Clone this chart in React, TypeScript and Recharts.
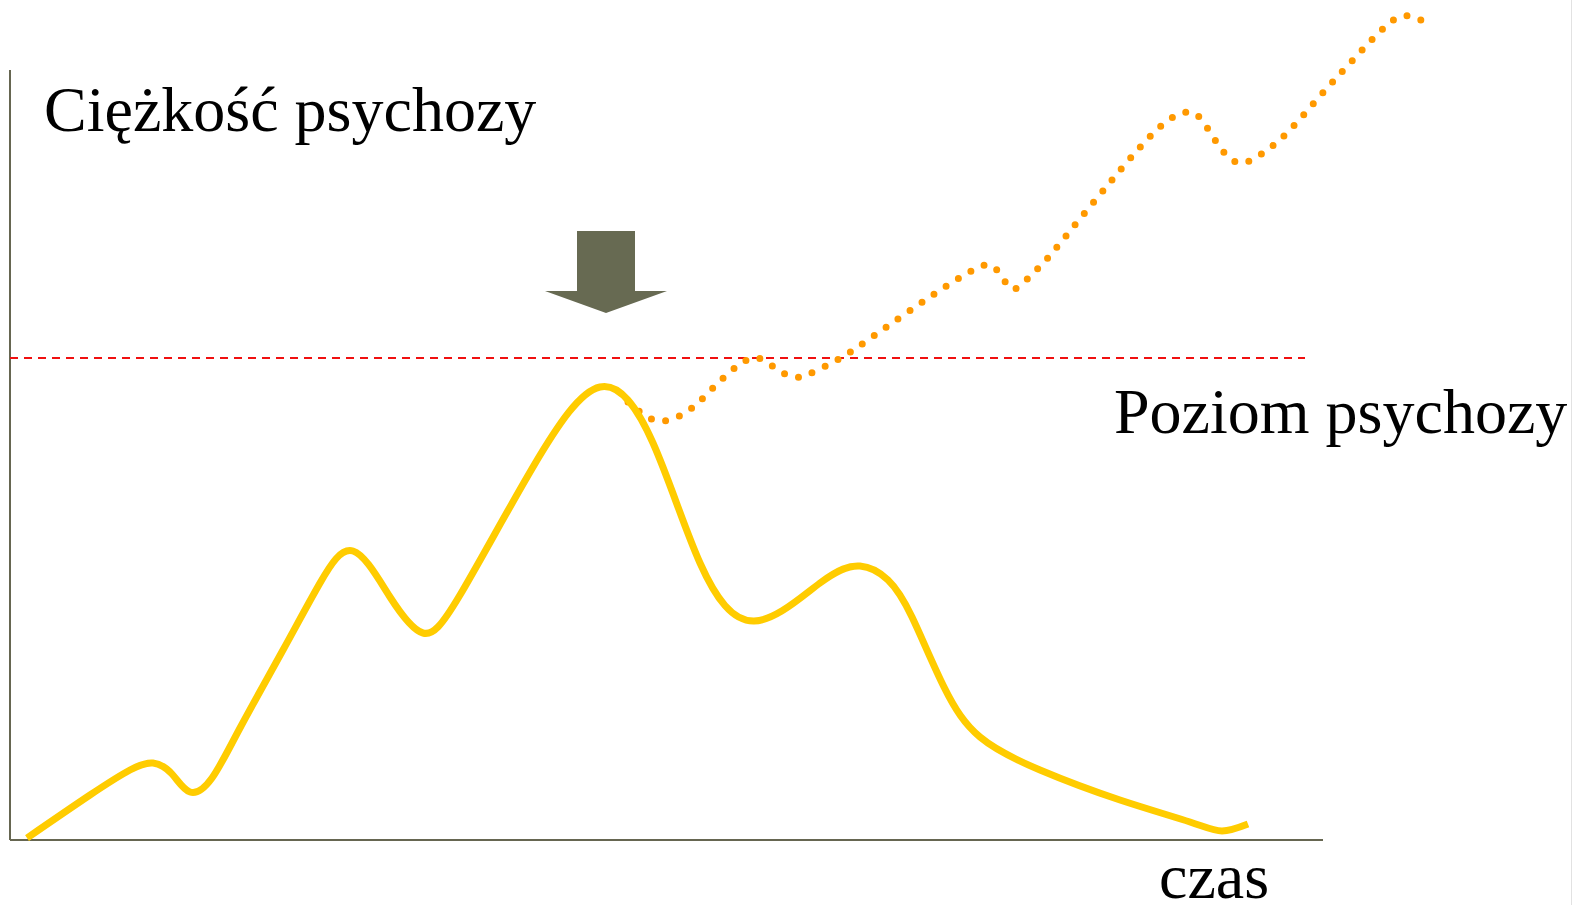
import React from 'react';
import { LineChart, Line, XAxis, YAxis, ReferenceLine, ReferenceDot, Customized } from 'recharts';

// time (t) and psychosis severity (s)
const mildCourseT = [1.7, 8.0, 12.0, 14.3, 16.2, 18.0, 20.2, 23.0, 27.3, 31.0, 34.3, 38.0, 41.3, 45.0, 52.3, 59.0, 64.3, 69.0, 74.4, 81.0, 85.0, 87.8, 90.2, 93.4, 97.0, 103.0, 111.0, 118.0, 121.2, 123.8];
const mildCourseS = [0.2, 4.5, 7.0, 7.7, 6.6, 4.8, 6.2, 11.2, 19.0, 25.7, 28.9, 24.3, 20.7, 24.5, 37.3, 45.3, 39.7, 27.7, 21.9, 25.7, 27.4, 26.0, 22.3, 15.3, 10.3, 7.0, 4.0, 1.8, 0.9, 1.6];

const untreatedT = [61.8, 63.3, 65.2, 67.8, 70.2, 72.6, 74.8, 76.8, 78.5, 79.9, 82.7, 85.5, 89.5, 93.5, 96.3, 97.9, 99.0, 100.0, 101.2, 103.5, 105.6, 108.7, 111.8, 115.2, 117.8, 119.4, 121.2, 123.1, 125.3, 127.8, 131.0, 134.3, 137.7, 139.9, 142.1];
const untreatedS = [43.8, 42.6, 41.9, 42.9, 45.1, 47.3, 48.2, 47.0, 46.3, 46.6, 48.0, 49.8, 52.6, 55.3, 57.0, 57.5, 56.6, 55.2, 55.6, 57.9, 60.4, 64.2, 67.9, 71.5, 72.8, 71.7, 69.0, 67.7, 68.7, 70.8, 74.4, 78.0, 81.5, 82.4, 81.5];

const psychosisLevel = 48.2;
const thresholdEndT = 129.5;
const axisMaxT = 131.3;
const axisMaxS = 77;
const interventionT = 59.6;
const interventionS = 52.7;

const yAxisTitle = 'Ciężkość psychozy';
const levelLabel = 'Poziom psychozy';
const xAxisTitle = 'czas';

const mildData = mildCourseT.map((t, i) => ({ t, s: mildCourseS[i] }));
const untreatedData = untreatedT.map((t, i) => ({ t, s: untreatedS[i] }));

const FONT = "'Liberation Serif', 'Times New Roman', serif";
const AXIS_COLOR = '#666651';

const ArrowShape = (p: any) => {
  const cx = p.cx;
  const cy = p.cy;
  const pts = [
    [-29, -82], [29, -82], [29, -22], [61, -22], [0, 0], [-61, -22], [-29, -22],
  ].map(([dx, dy]) => `${cx + dx},${cy + dy}`).join(' ');
  return <polygon points={pts} fill="#676a52" />;
};

const Texts = () => (
  <g fontFamily={FONT} fontSize={64} fill="#000">
    <text x={44} y={131}>{yAxisTitle}</text>
    <text x={1114} y={433}>{levelLabel}</text>
    <text x={1159} y={898}>{xAxisTitle}</text>
    <line x1={1571.5} y1={0} x2={1571.5} y2={905} stroke="#e2e2e2" strokeWidth={1} />
  </g>
);

export default function App() {
  return (
    <div style={{ position: 'absolute', left: 0, top: 0, width: 1572, height: 905, background: '#fff' }}>
      <LineChart width={1572} height={905} margin={{ top: 0, right: 0, bottom: 0, left: 0 }}>
        <XAxis type="number" dataKey="t" domain={[-1, 156.2]} hide allowDataOverflow />
        <YAxis type="number" dataKey="s" domain={[-6.5, 84]} hide allowDataOverflow />
        <ReferenceLine segment={[{ x: 0, y: 0 }, { x: 0, y: axisMaxS }]} stroke={AXIS_COLOR} strokeWidth={2} ifOverflow="visible" />
        <ReferenceLine segment={[{ x: 0, y: 0 }, { x: axisMaxT, y: 0 }]} stroke={AXIS_COLOR} strokeWidth={2} ifOverflow="visible" />
        <ReferenceLine
          segment={[{ x: 0, y: psychosisLevel }, { x: thresholdEndT, y: psychosisLevel }]}
          stroke="#f01010"
          strokeWidth={2}
          strokeDasharray="8 6"
          ifOverflow="visible"
        />
        <ReferenceDot x={interventionT} y={interventionS} r={0} shape={ArrowShape} ifOverflow="visible" />
        <Line
          data={untreatedData}
          dataKey="s"
          type="natural"
          stroke="#ff9900"
          strokeWidth={7}
          strokeDasharray="0 14.5"
          strokeLinecap="round"
          dot={false}
          activeDot={false}
          isAnimationActive={false}
        />
        <Line
          data={mildData}
          dataKey="s"
          type="natural"
          stroke="#ffcc00"
          strokeWidth={7}
          dot={false}
          activeDot={false}
          isAnimationActive={false}
        />
        <Customized component={Texts} />
      </LineChart>
    </div>
  );
}
